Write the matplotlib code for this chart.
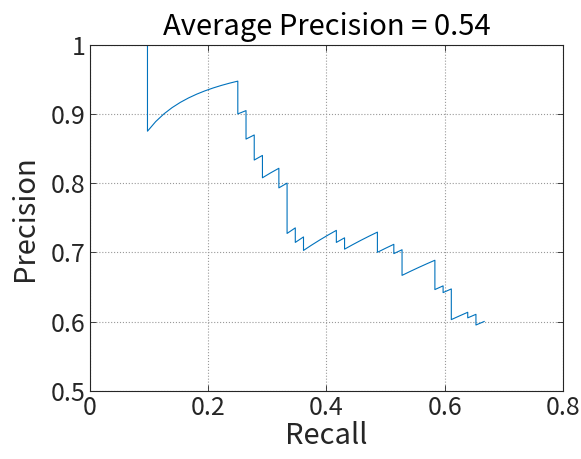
import numpy as np
import matplotlib.pyplot as plt

plt.rcParams['font.family'] = ['Noto Sans CJK JP', 'DejaVu Sans']

# ranked detections: 1 = true positive, 0 = false positive
num_positives = 72
runs = [(1, 7), (0, 1), (1, 11), (0, 1), (1, 1), (0, 1), (1, 1), (0, 1),
        (1, 1), (0, 1), (1, 2), (0, 1), (1, 1), (0, 3), (1, 1), (0, 1),
        (1, 1), (0, 1), (1, 4), (0, 1), (1, 1), (0, 1), (1, 4), (0, 2),
        (1, 2), (0, 1), (1, 1), (0, 3), (1, 4), (0, 4), (1, 1), (0, 1),
        (1, 1), (0, 5), (1, 2), (0, 1), (1, 1), (0, 2), (1, 1)]
labels = np.concatenate([np.full(n, v) for v, n in runs])
ap = 0.54

tp = np.cumsum(labels)
recall = np.concatenate([[0], tp / num_positives])
precision = np.concatenate([[1], tp / np.arange(1, len(labels) + 1)])

fig = plt.figure(figsize=(5.81, 4.59), dpi=100)
ax = fig.add_axes([0.1549, 0.1488, 0.8141, 0.7538])
ax.plot(recall, precision, color='#0072BD', linewidth=0.8)

ax.set_xlim(0, 0.8)
ax.set_ylim(0.5, 1)
ax.set_xticks([0, 0.2, 0.4, 0.6, 0.8])
ax.set_xticklabels(['0', '0.2', '0.4', '0.6', '0.8'])
ax.set_yticks([0.5, 0.6, 0.7, 0.8, 0.9, 1])
ax.set_yticklabels(['0.5', '0.6', '0.7', '0.8', '0.9', '1'])
ax.tick_params(direction='in', labelsize=18, length=4, width=0.6,
               top=True, right=True, pad=3, colors='#262626')
for s in ax.spines.values():
    s.set_linewidth(0.8)
    s.set_color('#262626')
ax.grid(True, linestyle=':', color='#999999', linewidth=0.8)

ax.set_xlabel('Recall', fontsize=21, color='#262626', labelpad=0)
ax.set_ylabel('Precision', fontsize=21, color='#262626', labelpad=8)
ax.set_title('Average Precision = %.2f' % ap, fontsize=21, pad=7)

fig.savefig('out.png', dpi=100)
